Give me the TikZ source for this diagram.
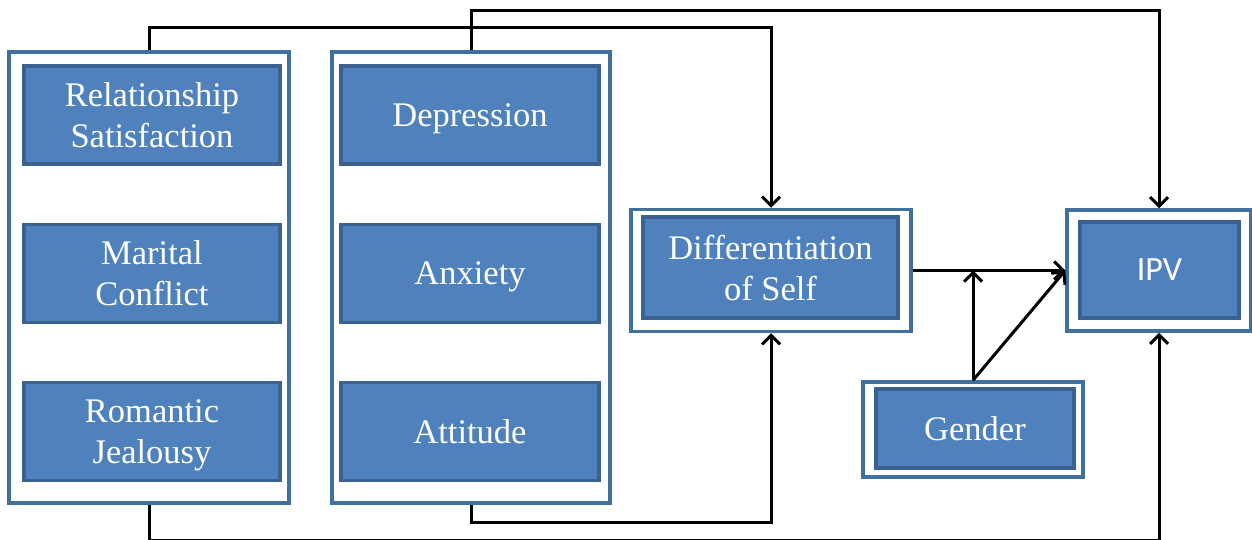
\documentclass[tikz,border=0pt]{standalone}
\usepackage{fontspec}
\setmainfont{Liberation Serif}
\newfontfamily\calfont{Carlito}
\usetikzlibrary{arrows.meta}
\definecolor{boxfill}{HTML}{4F81BD}
\definecolor{boxline}{HTML}{3A6191}
\definecolor{outline}{HTML}{41709F}
\tikzset{
  outerbox/.style={draw=outline, line width=3.5pt, fill=white, inner sep=0pt},
  innerbox/.style={draw=boxline, line width=3.5pt, fill=boxfill, text=white, align=center, inner sep=0pt,
     text depth=0pt, font=\fontsize{34.5}{41}\selectfont},
  conn/.style={draw=black, line width=3pt, -{Straight Barb[length=9pt,width=18pt]}}
}
\begin{document}
\begin{tikzpicture}[x=1pt,y=-1pt]
\useasboundingbox (0,0) rectangle (1252,540);
% outer boxes
\node[outerbox, minimum width=280pt, minimum height=451pt] (L) at (149,277.5) {};
\node[outerbox, minimum width=278pt, minimum height=451pt] (M) at (471,277.5) {};
\node[outerbox, minimum width=280pt, minimum height=122pt] (D) at (771,270.5) {};
\node[outerbox, minimum width=184pt, minimum height=121pt] (I) at (1159,270.5) {};
\node[outerbox, minimum width=220pt, minimum height=95pt] (G) at (973,429.5) {};
% inner boxes
\node[innerbox, minimum width=256pt, minimum height=98pt] (rs) at (152,115) {Relationship\\Satisfaction};
\node[innerbox, minimum width=256pt, minimum height=98pt] (mc) at (152,273.5) {Marital\\Conflict};
\node[innerbox, minimum width=256pt, minimum height=98pt] (rj) at (152,431.5) {Romantic\\Jealousy};
\node[innerbox, minimum width=258pt, minimum height=98pt] (dep) at (470,115) {Depression};
\node[innerbox, minimum width=258pt, minimum height=98pt] (anx) at (470,273.5) {Anxiety};
\node[innerbox, minimum width=258pt, minimum height=98pt] (att) at (470,431.5) {Attitude};
\node[innerbox, minimum width=255pt, minimum height=101pt] (dos) at (770.5,267.5) {Differentiation\\of Self};
\node[innerbox, minimum width=159pt, minimum height=96pt, font=\calfont\fontsize{34}{40}\selectfont] (ipv) at (1159.5,270) {IPV};
\node[innerbox, minimum width=198pt, minimum height=79pt] (gen) at (975,428.5) {Gender};
% connectors
\draw[conn] (L.north) -- ++(0,-23) -| (D.north);
\draw[conn] (M.north) -- ++(0,-40) -| (I.north);
\draw[conn] (L.south) -- ++(0,36) -| (I.south);
\draw[conn] (M.south) -- ++(0,18) -| (D.south);
\draw[conn] (D.east) -- (I.west |- D.east);
\draw[conn] (G.north) -- (G.north |- D.east);
\draw[conn] (G.north) -- (I.west |- D.east);
\end{tikzpicture}
\end{document}
